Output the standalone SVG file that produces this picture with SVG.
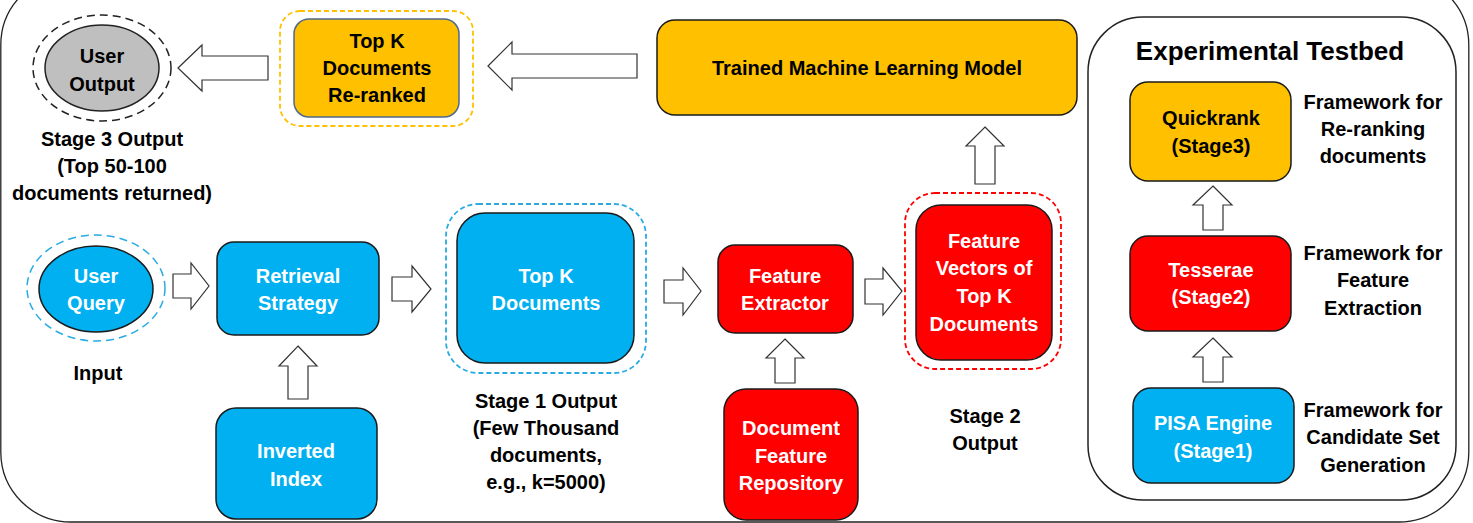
<svg xmlns="http://www.w3.org/2000/svg" width="1473" height="523" viewBox="0 0 1473 523">
<style>
text{font-family:"Liberation Sans",Arial,sans-serif;font-weight:bold;font-size:20px;text-anchor:middle}
.w{fill:#fff}.k{fill:#000}
.blue{fill:#00B0F0;stroke:#1a1a1a;stroke-width:1.5}
.red{fill:#FF0000;stroke:#1a1a1a;stroke-width:1.5}
.org{fill:#FFC000;stroke:#1a1a1a;stroke-width:1.5}
.arr{fill:#fff;stroke:#333;stroke-width:1.2;stroke-linejoin:miter}
.dash{fill:none;stroke-width:1.8;stroke-dasharray:5 3}
</style>
<rect x="0.8" y="-25" width="1468" height="547" rx="70" ry="70" fill="none" stroke="#222" stroke-width="1.3"/>

<g id="connectors">
<path class="arr" d="M178,68 L202,45 L202,56 L268,56 L268,80 L202,80 L202,91 Z"/>
<path class="arr" d="M488,66 L512,42 L512,54 L637,54 L637,78 L512,78 L512,90 Z"/>
<path class="arr" d="M985,127 L1004,146 L995,146 L995,184 L975,184 L975,146 L966,146 Z"/>
<path class="arr" d="M173,274 L191,274 L191,263 L209,286 L191,309 L191,298 L173,298 Z"/>
<path class="arr" d="M392,277 L412,277 L412,266 L431,289 L412,312 L412,301 L392,301 Z"/>
<path class="arr" d="M298,346 L317,366 L308,366 L308,399 L288,399 L288,366 L279,366 Z"/>
<path class="arr" d="M664,280 L683,280 L683,268 L701,291 L683,315 L683,303 L664,303 Z"/>
<path class="arr" d="M785,339 L804,358 L795,358 L795,383 L775,383 L775,358 L766,358 Z"/>
<path class="arr" d="M865,279 L883,279 L883,268 L902,291 L883,315 L883,304 L865,304 Z"/>
<path class="arr" d="M1213,186 L1232,205 L1223,205 L1223,230 L1203,230 L1203,205 L1193,205 Z"/>
<path class="arr" d="M1213,338 L1232,357 L1223,357 L1223,382 L1203,382 L1203,357 L1193,357 Z"/>
</g>

<g id="user-output">
<ellipse cx="102" cy="68" rx="69" ry="53" fill="none" stroke="#222" stroke-width="1.5" stroke-dasharray="8 5"/>
<ellipse cx="102" cy="68" rx="57" ry="43" fill="#BFBFBF" stroke="#222" stroke-width="1.5"/>
<text x="102" y="63" class="k">User</text>
<text x="102" y="91" class="k">Output</text>
</g>
<g id="stage3-label">
<text x="112" y="146">Stage 3 Output</text>
<text x="112" y="173">(Top 50-100</text>
<text x="112" y="200">documents returned)</text>
</g>

<g id="topk-reranked">
<rect class="dash" x="280" y="11" width="193" height="115" rx="20" stroke="#FFC000"/>
<rect x="294" y="19" width="165" height="98" rx="15" fill="#FFC000" stroke="#4f6a8f" stroke-width="1.5"/>
<text x="377" y="48">Top K</text>
<text x="377" y="75">Documents</text>
<text x="377" y="102">Re-ranked</text>
</g>

<g id="trained-model">
<rect class="org" x="657" y="20" width="420" height="95" rx="18"/>
<text x="867" y="75">Trained Machine Learning Model</text>
</g>

<g id="user-query">
<ellipse cx="96" cy="288" rx="69" ry="53" fill="none" stroke="#29ABE2" stroke-width="1.5" stroke-dasharray="8 5"/>
<ellipse cx="96" cy="289" rx="57" ry="43" class="blue"/>
<text x="96" y="283" class="w">User</text>
<text x="96" y="310" class="w">Query</text>
</g>
<g id="input-label"><text x="98" y="380">Input</text></g>

<g id="retrieval">
<rect class="blue" x="217" y="242" width="162" height="93" rx="17"/>
<text x="298" y="283" class="w">Retrieval</text>
<text x="298" y="310" class="w">Strategy</text>
</g>

<g id="inverted-index">
<rect class="blue" x="216" y="408" width="161" height="111" rx="20"/>
<text x="296" y="458" class="w">Inverted</text>
<text x="296" y="486" class="w">Index</text>
</g>

<g id="topk-docs">
<rect class="dash" x="446" y="204" width="200" height="169" rx="32" stroke="#29ABE2"/>
<rect class="blue" x="457" y="213" width="177" height="150" rx="28"/>
<text x="546" y="283" class="w">Top K</text>
<text x="546" y="310" class="w">Documents</text>
</g>
<g id="stage1-label">
<text x="546" y="408">Stage 1 Output</text>
<text x="546" y="435">(Few Thousand</text>
<text x="546" y="462">documents,</text>
<text x="546" y="489">e.g., k=5000)</text>
</g>

<g id="feature-extractor">
<rect class="red" x="718" y="245" width="135" height="88" rx="17"/>
<text x="785" y="283" class="w">Feature</text>
<text x="785" y="310" class="w">Extractor</text>
</g>

<g id="doc-feature-repo">
<rect class="red" x="724" y="389" width="134" height="131" rx="22"/>
<text x="791" y="435" class="w">Document</text>
<text x="791" y="463" class="w">Feature</text>
<text x="791" y="490" class="w">Repository</text>
</g>

<g id="feature-vectors">
<rect class="dash" x="905" y="193" width="156" height="176" rx="30" stroke="#FF0000"/>
<rect class="red" x="916" y="205" width="136" height="155" rx="25"/>
<text x="984" y="248" class="w">Feature</text>
<text x="984" y="275" class="w">Vectors of</text>
<text x="984" y="303" class="w">Top K</text>
<text x="984" y="331" class="w">Documents</text>
</g>
<g id="stage2-label">
<text x="985" y="423">Stage 2</text>
<text x="985" y="450">Output</text>
</g>

<g id="testbed">
<rect x="1088" y="17" width="368" height="483" rx="55" fill="none" stroke="#222" stroke-width="1.5"/>
<text x="1270" y="60" style="font-size:26px">Experimental Testbed</text>
</g>

<g id="quickrank">
<rect class="org" x="1130" y="82" width="161" height="99" rx="18"/>
<text x="1211" y="125">Quickrank</text>
<text x="1211" y="153">(Stage3)</text>
</g>
<g id="tesserae">
<rect class="red" x="1130" y="236" width="161" height="95" rx="18"/>
<text x="1211" y="277" class="w">Tesserae</text>
<text x="1211" y="304" class="w">(Stage2)</text>
</g>
<g id="pisa">
<rect class="blue" x="1133" y="388" width="161" height="95" rx="18"/>
<text x="1213" y="430" class="w">PISA Engine</text>
<text x="1213" y="458" class="w">(Stage1)</text>
</g>

<g id="testbed-labels">
<text x="1373" y="109">Framework for</text>
<text x="1373" y="136">Re-ranking</text>
<text x="1373" y="163">documents</text>
<text x="1373" y="260">Framework for</text>
<text x="1373" y="287">Feature</text>
<text x="1373" y="315">Extraction</text>
<text x="1373" y="417">Framework for</text>
<text x="1373" y="444">Candidate Set</text>
<text x="1373" y="472">Generation</text>
</g>
</svg>
